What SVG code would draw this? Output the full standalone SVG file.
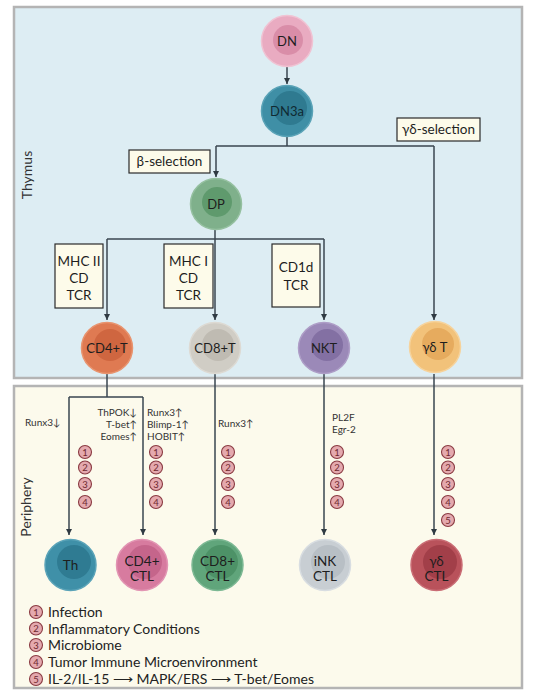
<svg xmlns="http://www.w3.org/2000/svg" width="536" height="700" viewBox="0 0 536 700">
<defs>
<marker id="ah" viewBox="0 0 8 8" refX="8" refY="4" markerWidth="6" markerHeight="6" orient="auto" markerUnits="userSpaceOnUse"><path d="M0,0 L8,4 L0,8 z" fill="#2f3a42"/></marker>
<style>
text{font-family:Lato,"Liberation Sans",sans-serif;fill:#1e1e1e}
.panel{stroke:#b4b4b4;stroke-width:2.5}
.side{font-size:14px;fill:#333}
.cl{font-size:13px;text-anchor:middle}
.bl{font-size:13.5px;text-anchor:middle}
.box{fill:#fdfbea;stroke:#2a2a2a;stroke-width:1.2}
.conn path{fill:none;stroke:#3a4650;stroke-width:1.5}
.sm{font-size:10px;fill:#333}
.nc{fill:#e4a9ae;stroke:#8a3a42;stroke-width:1.1}
.nt{font-size:9.5px;text-anchor:middle;fill:#6e2830}
.lg{font-size:14px;fill:#222}
</style>
</defs>

<rect class="panel" x="14" y="7" width="508" height="371" fill="#ddedf3"/>
<rect class="panel" x="14" y="386" width="508" height="302" fill="#fcfaec"/>
<text class="side" transform="translate(32,175) rotate(-90)" text-anchor="middle">Thymus</text>
<text class="side" transform="translate(31,507) rotate(-90)" text-anchor="middle">Periphery</text>

<g class="conn">
<path d="M287,67 V84" marker-end="url(#ah)"/>
<path d="M287,137 V146 M216,146 H434"/>
<path d="M216,146 V177" marker-end="url(#ah)"/>
<path d="M434,146 V320" marker-end="url(#ah)"/>
<path d="M107,239 H324"/>
<path d="M215,230 V320" marker-end="url(#ah)"/>
<path d="M107,239 V320" marker-end="url(#ah)"/>
<path d="M324,239 V320" marker-end="url(#ah)"/>
<path d="M107,374 V397 M69,397 H143"/>
<path d="M69,397 V535" marker-end="url(#ah)"/>
<path d="M143,397 V535" marker-end="url(#ah)"/>
<path d="M215,374 V535" marker-end="url(#ah)"/>
<path d="M324,374 V535" marker-end="url(#ah)"/>
<path d="M434,374 V535" marker-end="url(#ah)"/>
</g>

<g id="beta-selection"><rect class="box" x="129" y="150" width="81" height="23"/><text x="169.5" y="166" class="bl">β-selection</text></g>
<g id="gd-selection"><rect class="box" x="397" y="118" width="83" height="23"/><text x="438.5" y="134" class="bl">γδ-selection</text></g>
<g id="box-mhc2"><rect class="box" x="55" y="244" width="48" height="64"/><text class="bl" x="79" y="266">MHC II</text><text class="bl" x="79" y="283">CD</text><text class="bl" x="79" y="300">TCR</text></g>
<g id="box-mhc1"><rect class="box" x="164" y="244" width="49" height="64"/><text class="bl" x="188.5" y="266">MHC I</text><text class="bl" x="188.5" y="283">CD</text><text class="bl" x="188.5" y="300">TCR</text></g>
<g id="box-cd1d"><rect class="box" x="272" y="244" width="48" height="63"/><text class="bl" x="296" y="272">CD1d</text><text class="bl" x="296" y="290">TCR</text></g>

<g id="DN"><circle cx="287" cy="41" r="25.5" fill="#e9abc1" stroke="#f0c3d3" stroke-width="1.5"/><circle cx="288" cy="40" r="15" fill="#d98da8"/><text class="cl" x="287" y="46">DN</text></g>
<g id="DN3a"><circle cx="287" cy="111" r="25.5" fill="#3f8fa6" stroke="#5aa3b7" stroke-width="1.5"/><circle cx="290" cy="108" r="17" fill="#2f7a90"/><text class="cl" x="287" y="116" style="fill:#102a33">DN3a</text></g>
<g id="DP"><circle cx="216" cy="204" r="25.5" fill="#7fb08b" stroke="#95c0a0" stroke-width="1.5"/><circle cx="217" cy="202" r="15" fill="#5f9a6d"/><text class="cl" x="216" y="209">DP</text></g>

<g id="CD4T"><circle cx="107" cy="348" r="25.5" fill="#df7a52" stroke="#e8946f" stroke-width="1.5"/><circle cx="110" cy="345" r="16" fill="#cf6640"/><text class="cl" x="107" y="353">CD4+T</text></g>
<g id="CD8T"><circle cx="215" cy="348" r="25.5" fill="#d0cdc5" stroke="#dddad3" stroke-width="1.5"/><circle cx="218" cy="345" r="16" fill="#bfbbb2"/><text class="cl" x="215" y="353">CD8+T</text></g>
<g id="NKT"><circle cx="324" cy="348" r="25.5" fill="#9b89b8" stroke="#ae9ec7" stroke-width="1.5"/><circle cx="327" cy="345" r="16" fill="#8370a3"/><text class="cl" x="324" y="353">NKT</text></g>
<g id="gdT"><circle cx="435" cy="347" r="25.5" fill="#f2c27a" stroke="#f6d39c" stroke-width="1.5"/><circle cx="438" cy="344" r="16" fill="#e6ab5e"/><text class="cl" x="435" y="352">γδ T</text></g>

<g id="Th"><circle cx="70.5" cy="565" r="25.5" fill="#3f90a8" stroke="#5aa3b8" stroke-width="1.5"/><circle cx="74" cy="562" r="17" fill="#2f7b92"/><text class="bl" x="70.5" y="570">Th</text></g>
<g id="CD4CTL"><circle cx="142" cy="565" r="25.5" fill="#d77b9f" stroke="#e295b3" stroke-width="1.5"/><circle cx="145" cy="562" r="17" fill="#c5658b"/><text class="bl" x="142" y="566">CD4+</text><text class="bl" x="142" y="581">CTL</text></g>
<g id="CD8CTL"><circle cx="217.5" cy="565" r="25.5" fill="#60a57b" stroke="#7cb893" stroke-width="1.5"/><circle cx="221" cy="562" r="17" fill="#4d9267"/><text class="bl" x="217.5" y="566">CD8+</text><text class="bl" x="217.5" y="581">CTL</text></g>
<g id="iNKCTL"><circle cx="325" cy="565" r="25.5" fill="#c8ced3" stroke="#d8dde1" stroke-width="1.5"/><circle cx="328" cy="562" r="17" fill="#b8bfc5"/><text class="bl" x="325" y="566">iNK</text><text class="bl" x="325" y="581">CTL</text></g>
<g id="gdCTL"><circle cx="436.5" cy="565" r="25.5" fill="#b9525b" stroke="#c96c74" stroke-width="1.5"/><circle cx="440" cy="562" r="17" fill="#a23f49"/><text class="bl" x="436.5" y="566">γδ</text><text class="bl" x="436.5" y="581">CTL</text></g>

<g id="factors">
<text class="sm" x="25" y="426">Runx3↓</text>
<text class="sm" x="137" y="416" text-anchor="end">ThPOK↓</text>
<text class="sm" x="137" y="428" text-anchor="end">T-bet↑</text>
<text class="sm" x="137" y="440" text-anchor="end">Eomes↑</text>
<text class="sm" x="147" y="416">Runx3↑</text>
<text class="sm" x="147" y="428">Blimp-1↑</text>
<text class="sm" x="147" y="440">HOBIT↑</text>
<text class="sm" x="218" y="427">Runx3↑</text>
<text class="sm" x="332" y="421">PL2F</text>
<text class="sm" x="332" y="433">Egr-2</text>
</g>

<g id="conditions-Th">
<circle class="nc" cx="85" cy="452" r="6.5"/><text class="nt" x="85" y="455.5">1</text>
<circle class="nc" cx="85" cy="467.5" r="6.5"/><text class="nt" x="85" y="471">2</text>
<circle class="nc" cx="85" cy="484" r="6.5"/><text class="nt" x="85" y="487.5">3</text>
<circle class="nc" cx="85" cy="502" r="6.5"/><text class="nt" x="85" y="505.5">4</text>
</g>
<g id="conditions-CD4CTL">
<circle class="nc" cx="156" cy="452" r="6.5"/><text class="nt" x="156" y="455.5">1</text>
<circle class="nc" cx="156" cy="467.5" r="6.5"/><text class="nt" x="156" y="471">2</text>
<circle class="nc" cx="156" cy="484" r="6.5"/><text class="nt" x="156" y="487.5">3</text>
<circle class="nc" cx="156" cy="502" r="6.5"/><text class="nt" x="156" y="505.5">4</text>
</g>
<g id="conditions-CD8CTL">
<circle class="nc" cx="228" cy="452" r="6.5"/><text class="nt" x="228" y="455.5">1</text>
<circle class="nc" cx="228" cy="467.5" r="6.5"/><text class="nt" x="228" y="471">2</text>
<circle class="nc" cx="228" cy="484" r="6.5"/><text class="nt" x="228" y="487.5">3</text>
<circle class="nc" cx="228" cy="502" r="6.5"/><text class="nt" x="228" y="505.5">4</text>
</g>
<g id="conditions-iNKCTL">
<circle class="nc" cx="337" cy="452" r="6.5"/><text class="nt" x="337" y="455.5">1</text>
<circle class="nc" cx="337" cy="467.5" r="6.5"/><text class="nt" x="337" y="471">2</text>
<circle class="nc" cx="337" cy="484" r="6.5"/><text class="nt" x="337" y="487.5">3</text>
<circle class="nc" cx="337" cy="502" r="6.5"/><text class="nt" x="337" y="505.5">4</text>
</g>
<g id="conditions-gdCTL">
<circle class="nc" cx="448" cy="452" r="6.5"/><text class="nt" x="448" y="455.5">1</text>
<circle class="nc" cx="448" cy="467.5" r="6.5"/><text class="nt" x="448" y="471">2</text>
<circle class="nc" cx="448" cy="484" r="6.5"/><text class="nt" x="448" y="487.5">3</text>
<circle class="nc" cx="448" cy="502" r="6.5"/><text class="nt" x="448" y="505.5">4</text>
<circle class="nc" cx="448" cy="520" r="6.5"/><text class="nt" x="448" y="523.5">5</text>
</g>

<g id="legend">
<circle class="nc" cx="36" cy="612" r="6.5"/><text class="nt" x="36" y="615.5">1</text><text class="lg" x="48" y="617">Infection</text>
<circle class="nc" cx="36" cy="628.5" r="6.5"/><text class="nt" x="36" y="632">2</text><text class="lg" x="48" y="633.5">Inflammatory Conditions</text>
<circle class="nc" cx="36" cy="645" r="6.5"/><text class="nt" x="36" y="648.5">3</text><text class="lg" x="48" y="650">Microbiome</text>
<circle class="nc" cx="36" cy="662" r="6.5"/><text class="nt" x="36" y="665.5">4</text><text class="lg" x="48" y="667">Tumor Immune Microenvironment</text>
<circle class="nc" cx="36" cy="679" r="6.5"/><text class="nt" x="36" y="682.5">5</text><text class="lg" x="48" y="684">IL-2/IL-15 ⟶ MAPK/ERS ⟶ T-bet/Eomes</text>
</g>
</svg>
